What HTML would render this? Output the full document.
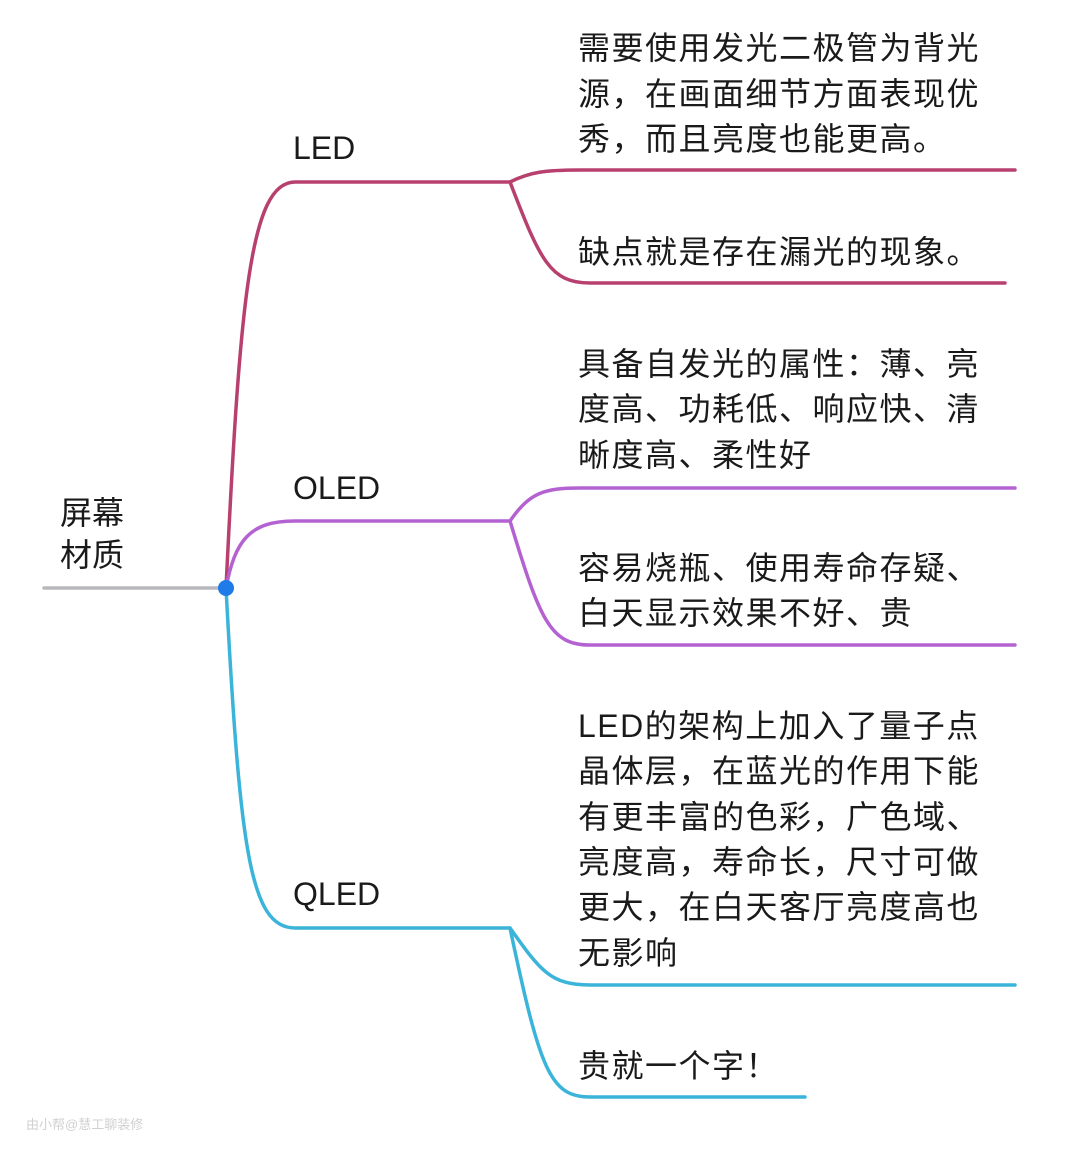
<!DOCTYPE html>
<html><head><meta charset="utf-8"><style>
body{margin:0;background:#fff}
svg text{font-family:"Liberation Sans","Noto Sans CJK SC",sans-serif;fill:#1a1a1a}
</style></head><body>
<svg width="1080" height="1159" viewBox="0 0 1080 1159" xmlns="http://www.w3.org/2000/svg">
<g fill="none" stroke-width="3.5" stroke-linecap="round">
<path d="M44 588 H224" stroke="#b9b9bd"/>
<g stroke="#b8406e">
<path d="M226 588 C240 300 250 182 295 182 H510"/>
<path d="M510 182 C530 172 545 170 580 170 H1015"/>
<path d="M510 182 C540 260 550 283 590 283 H1005"/>
</g>
<g stroke="#b462d2">
<path d="M226 588 C235 540 250 521 295 521 H510"/>
<path d="M510 521 C530 492 545 488 580 488 H1015"/>
<path d="M510 521 C540 620 550 645 590 645 H1015"/>
</g>
<g stroke="#3bb4d9">
<path d="M226 588 C240 850 250 928 295 928 H510"/>
<path d="M510 928 C540 970 550 985 590 985 H1015"/>
<path d="M510 928 C540 1070 550 1097 590 1097 H805"/>
</g>
</g>
<circle cx="226" cy="588" r="8" fill="#1f7be8"/>
<g font-size="32">
<text x="60" y="524">屏幕</text>
<text x="60" y="566">材质</text>
<text x="293" y="159">LED</text>
<text x="293" y="499">OLED</text>
<text x="293" y="905">QLED</text>
</g>
<g font-size="32" letter-spacing="1.5">
<text x="578" y="59">需要使用发光二极管为背光</text>
<text x="578" y="105">源，在画面细节方面表现优</text>
<text x="578" y="150">秀，而且亮度也能更高。</text>
<text x="578" y="263">缺点就是存在漏光的现象。</text>
<text x="578" y="375">具备自发光的属性：薄、亮</text>
<text x="578" y="420">度高、功耗低、响应快、清</text>
<text x="578" y="466">晰度高、柔性好</text>
<text x="578" y="579">容易烧瓶、使用寿命存疑、</text>
<text x="578" y="624">白天显示效果不好、贵</text>
<text x="578" y="737">LED的架构上加入了量子点</text>
<text x="578" y="782">晶体层，在蓝光的作用下能</text>
<text x="578" y="828">有更丰富的色彩，广色域、</text>
<text x="578" y="873">亮度高，寿命长，尺寸可做</text>
<text x="578" y="918">更大，在白天客厅亮度高也</text>
<text x="578" y="964">无影响</text>
<text x="578" y="1077">贵就一个字！</text>
</g>
<text x="26" y="1129" font-size="13" style="fill:#d0d0d0">由小帮@慧工聊装修</text>
</svg>
</body></html>
